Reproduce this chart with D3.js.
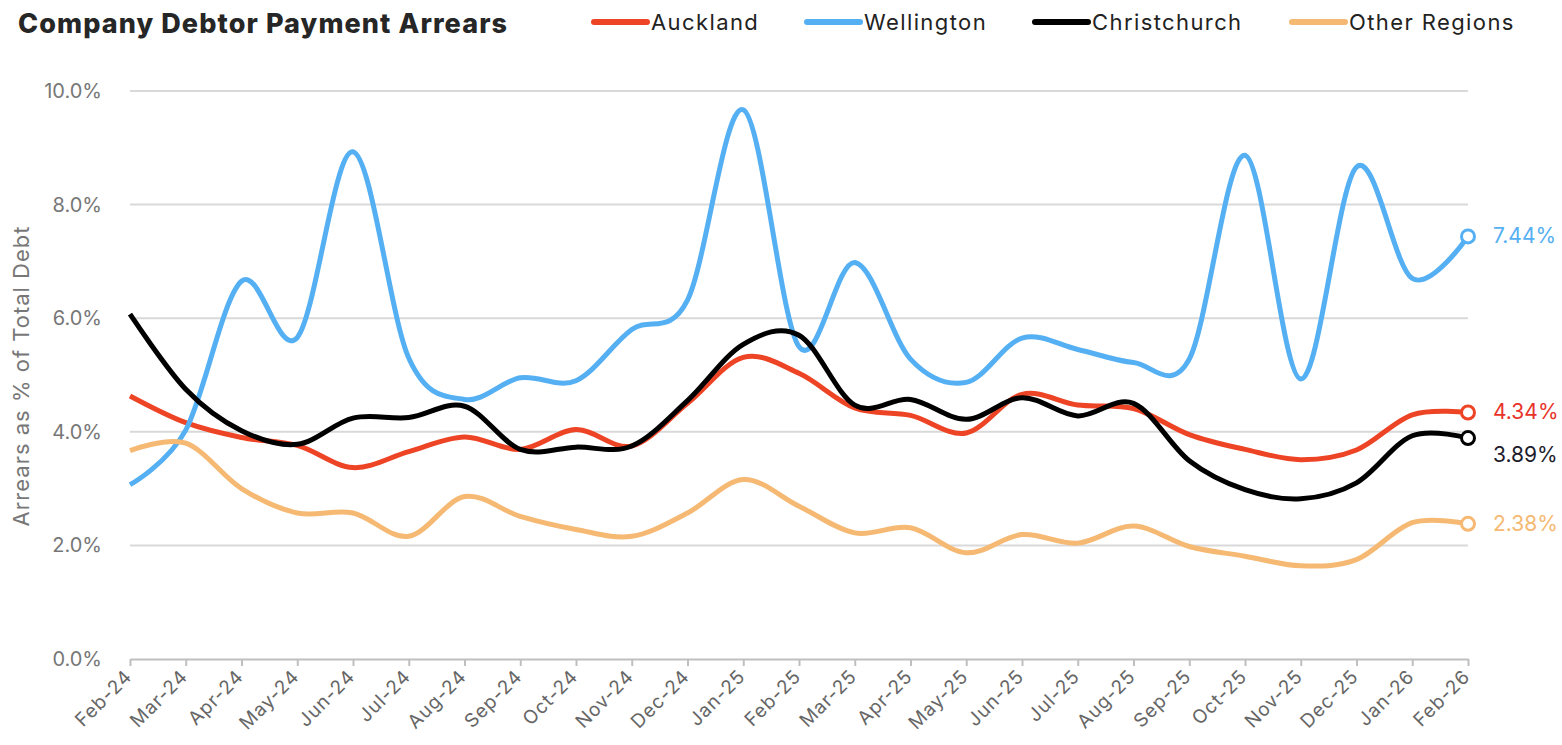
<!DOCTYPE html>
<html>
<head>
<meta charset="utf-8">
<script src="https://cdn.jsdelivr.net/npm/d3@7"></script>
<style>
  body { margin: 0; background: #fff; }
  svg { display: block; font-family: Inter, "Open Sans", sans-serif; }
</style>
</head>
<body>
<div id="chart"></div>
<script>
// month labels along the x axis
const months = ["Feb-24","Mar-24","Apr-24","May-24","Jun-24","Jul-24","Aug-24","Sep-24","Oct-24","Nov-24","Dec-24","Jan-25",
  "Feb-25","Mar-25","Apr-25","May-25","Jun-25","Jul-25","Aug-25","Sep-25","Oct-25","Nov-25","Dec-25","Jan-26","Feb-26"];

// arrears as % of total debt
const auckland = [4.63,4.16,3.9,3.76,3.37,3.65,3.91,3.69,4.04,3.75,4.5,5.31,5.03,4.42,4.29,3.98,4.66,4.47,4.41,3.95,3.69,3.51,3.68,4.3,4.34];
const wellington = [3.07,4.03,6.65,5.66,8.93,5.3,4.57,4.95,4.9,5.8,6.32,9.67,5.5,6.98,5.28,4.87,5.65,5.45,5.22,5.28,8.87,4.93,8.66,6.7,7.44];
const christchurch = [6.07,4.75,4.02,3.78,4.24,4.25,4.45,3.69,3.73,3.75,4.55,5.54,5.7,4.47,4.57,4.22,4.6,4.28,4.5,3.49,2.98,2.82,3.1,3.93,3.89];
const otherRegions = [3.67,3.8,3.0,2.57,2.57,2.16,2.86,2.51,2.28,2.16,2.57,3.16,2.69,2.22,2.31,1.87,2.19,2.04,2.34,1.98,1.81,1.64,1.75,2.4,2.38];

const yTicks = [0,2,4,6,8,10];

const series = [
  {name:"Auckland", values:auckland, color:"#EE4426", label:"#E8332A", dy:7},
  {name:"Wellington", values:wellington, color:"#55AFF3", label:"#55AFF3", dy:7},
  {name:"Christchurch", values:christchurch, color:"#000000", label:"#1c1c2c", dy:24},
  {name:"Other Regions", values:otherRegions, color:"#F5B973", label:"#F5B973", dy:7}
];

const W = 1562, H = 745;
const margin = {top:91, right:94, bottom:86, left:130};

const svg = d3.select("#chart").append("svg")
  .attr("width", W).attr("height", H);

const x = d3.scalePoint().domain(months).range([margin.left, W - margin.right]);
const y = d3.scaleLinear().domain([0,10]).range([H - margin.bottom, margin.top]);

// gridlines
svg.append("g").selectAll("line").data(yTicks.filter(d => d > 0)).join("line")
  .attr("x1", margin.left).attr("x2", W - margin.right)
  .attr("y1", d => y(d)).attr("y2", d => y(d))
  .attr("stroke", "#d9d9d9").attr("stroke-width", 2);

// y tick labels
svg.append("g").selectAll("text").data(yTicks).join("text")
  .attr("x", 102).attr("y", d => y(d)).attr("dy", "0.35em")
  .attr("text-anchor", "end")
  .attr("font-size", 20).attr("fill", "#777")
  .text(d => d.toFixed(1) + "%");

// x axis
const xAxis = svg.append("g")
  .attr("transform", `translate(0,${y(0)})`)
  .call(d3.axisBottom(x).tickSize(7).tickSizeOuter(0));
xAxis.select(".domain").attr("stroke", "#bfbfbf").attr("stroke-width", 2);
xAxis.selectAll(".tick line").attr("stroke", "#bfbfbf").attr("stroke-width", 2);
xAxis.selectAll(".tick text")
  .attr("font-size", 19).attr("fill", "#666")
  .attr("font-family", "Inter, sans-serif")
  .attr("letter-spacing", 1)
  .attr("text-anchor", "end")
  .attr("transform", "translate(-2,14) rotate(-45)")
  .attr("dx", 0).attr("dy", "0.35em").attr("y", 0).attr("x", 0);

// y axis title
svg.append("text")
  .attr("transform", `translate(29,376) rotate(-90)`)
  .attr("text-anchor", "middle")
  .attr("font-size", 22).attr("letter-spacing", 1).attr("fill", "#777")
  .text("Arrears as % of Total Debt");

// lines
const line = d3.line()
  .x((d, i) => x(months[i]))
  .y(d => y(d))
  .curve(d3.curveCatmullRom.alpha(0));

svg.append("g").selectAll("path").data(series).join("path")
  .attr("d", d => line(d.values))
  .attr("fill", "none")
  .attr("stroke", d => d.color)
  .attr("stroke-width", 5)
  .attr("stroke-linejoin", "round");

// end markers + value labels
const last = months.length - 1;
const ends = svg.append("g").selectAll("g").data(series).join("g");
ends.append("circle")
  .attr("cx", x(months[last]))
  .attr("cy", d => y(d.values[last]))
  .attr("r", 6.5)
  .attr("fill", "#fff")
  .attr("stroke", d => d.color)
  .attr("stroke-width", 3);
ends.append("text")
  .attr("x", x(months[last]) + 25)
  .attr("y", d => y(d.values[last]) + d.dy)
  .attr("font-size", 21)
  .attr("fill", d => d.label)
  .text(d => d.values[last].toFixed(2) + "%");

// title
svg.append("text")
  .attr("x", 18).attr("y", 33)
  .attr("font-size", 27).attr("font-weight", 800).attr("letter-spacing", 1.1).attr("fill", "#262626")
  .text("Company Debtor Payment Arrears");

// legend
const legendX = [592, 805, 1033, 1290];
const leg = svg.append("g").selectAll("g").data(series).join("g")
  .attr("transform", (d, i) => `translate(${legendX[i]},22)`);
leg.append("line")
  .attr("x1", 2).attr("x2", 55)
  .attr("stroke", d => d.color).attr("stroke-width", 6)
  .attr("stroke-linecap", "round");
leg.append("text")
  .attr("x", 59).attr("dy", "0.35em")
  .attr("font-size", 22).attr("letter-spacing", 1.4).attr("fill", "#222")
  .text(d => d.name);
</script>
</body>
</html>
